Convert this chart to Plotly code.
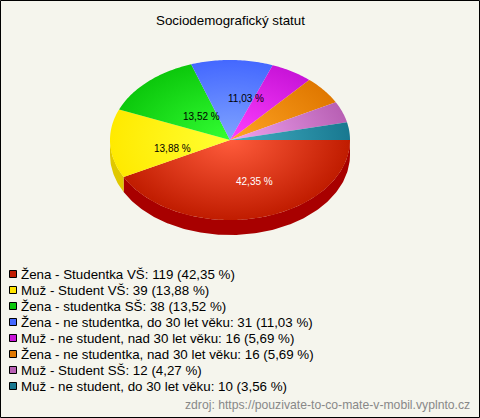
import numpy as np
import plotly.graph_objects as go

labels = ["Žena - Studentka VŠ", "Muž - Student VŠ", "Žena - studentka SŠ",
          "Žena - ne studentka, do 30 let věku", "Muž - ne student, nad 30 let věku",
          "Žena - ne studentka, nad 30 let věku", "Muž - Student SŠ",
          "Muž - ne student, do 30 let věku"]
values = [119, 39, 38, 31, 16, 16, 12, 10]
percent_text = ["42,35 %", "13,88 %", "13,52 %", "11,03 %", "5,69 %", "5,69 %", "4,27 %", "3,56 %"]
inner_colors = ["#ff5c3c", "#ffff33", "#33ff33", "#80a4ff", "#ff40ff", "#ffa424", "#f0a4f0", "#44b0c4"]
outer_colors = ["#c01c00", "#ffea00", "#0cc80c", "#4468ff", "#c814d8", "#e07800", "#b860b4", "#187890"]
side_colors = ["#a80000", "#e0c800", "#0aa00a", "#3050d0", "#a010b0", "#b06000", "#905090", "#106070"]
swatch_colors = ["#c01c00", "#ffe400", "#0cc80c", "#4468ff", "#c814d8", "#e07800", "#b860b4", "#187890"]

CX, CY, RX, RY, DEPTH = 230, 140, 120, 80, 15
BG = "#f5f5ed"

fig = go.Figure()
total = sum(values)
edges = np.concatenate([[0], np.cumsum(values)]) / total * 2 * np.pi


def arc(a0, a1, dy=0.0):
    t = np.linspace(a0, a1, max(3, int((a1 - a0) * 60)))
    return CX + RX * np.cos(t), CY + dy + RY * np.sin(t)


# side wall
for i in range(len(values)):
    a0, a1 = edges[i], min(edges[i + 1], np.pi)
    if a0 >= np.pi:
        continue
    xt, yt = arc(a0, a1)
    xb, yb = arc(a0, a1, DEPTH)
    fig.add_trace(go.Scatter(
        x=np.concatenate([xt, xb[::-1]]), y=np.concatenate([yt, yb[::-1]]),
        mode="lines", fill="toself", fillcolor=side_colors[i],
        line=dict(width=0), hoverinfo="skip", showlegend=False))

# top wedges: zero-area spikes stretch the bounding box so every radial gradient is centred on the pie
for i, name in enumerate(labels):
    xa, ya = arc(edges[i], edges[i + 1])
    x = [CX, *xa, CX, CX - RX, CX, CX + RX, CX]
    y = [CY, *ya, CY, CY - RY, CY, CY + RY, CY]
    fig.add_trace(go.Scatter(
        x=x, y=y, mode="lines", fill="toself", name=name,
        fillgradient=dict(type="radial", colorscale=[[0, inner_colors[i]], [1, outer_colors[i]]]),
        line=dict(width=0, simplify=False), hoverinfo="skip", showlegend=False))

annotations = []
# value labels on the four largest slices
label_pos = [(254, 181, "white"), (172, 148, "black"), (201, 116, "black"), (246, 98, "black")]
for (lx, ly, c), txt in zip(label_pos, percent_text):
    annotations.append(dict(x=lx, y=ly, text=txt, showarrow=False, xanchor="center", yanchor="middle",
                            font=dict(size=10, color=c, family="Liberation Sans")))

# legend
shapes = [dict(type="rect", x0=0.5, y0=0.5, x1=479.5, y1=417.5, xref="x", yref="y",
               line=dict(color="black", width=1), fillcolor="rgba(0,0,0,0)")]
for i, name in enumerate(labels):
    yy = 274 + 16 * i
    shapes.append(dict(type="rect", x0=9.5, x1=16.5, y0=yy - 3.5, y1=yy + 3.5, xref="x", yref="y",
                       line=dict(color="black", width=1), fillcolor=swatch_colors[i]))
    annotations.append(dict(x=19, y=yy, text=f"{name}: {values[i]} ({percent_text[i]})", showarrow=False,
                            xanchor="left", yanchor="middle",
                            font=dict(size=13.33, color="black", family="Liberation Sans")))

annotations.append(dict(x=230, y=20, text="Sociodemografický statut", showarrow=False,
                        xanchor="center", yanchor="middle",
                        font=dict(size=13.33, color="black", family="Liberation Sans")))
annotations.append(dict(x=472, y=405, text="zdroj: https://pouzivate-to-co-mate-v-mobil.vyplnto.cz",
                        showarrow=False, xanchor="right", yanchor="middle",
                        font=dict(size=12.2, color="#888888", family="Liberation Sans")))

fig.update_layout(
    width=480, height=418, margin=dict(l=0, r=0, t=0, b=0),
    paper_bgcolor=BG, plot_bgcolor=BG, showlegend=False,
    xaxis=dict(range=[0, 480], visible=False, fixedrange=True),
    yaxis=dict(range=[418, 0], visible=False, fixedrange=True),
    annotations=annotations, shapes=shapes,
)
fig.write_html("out.html", config=dict(displayModeBar=False),
               post_script="document.body.style.margin='0';")
